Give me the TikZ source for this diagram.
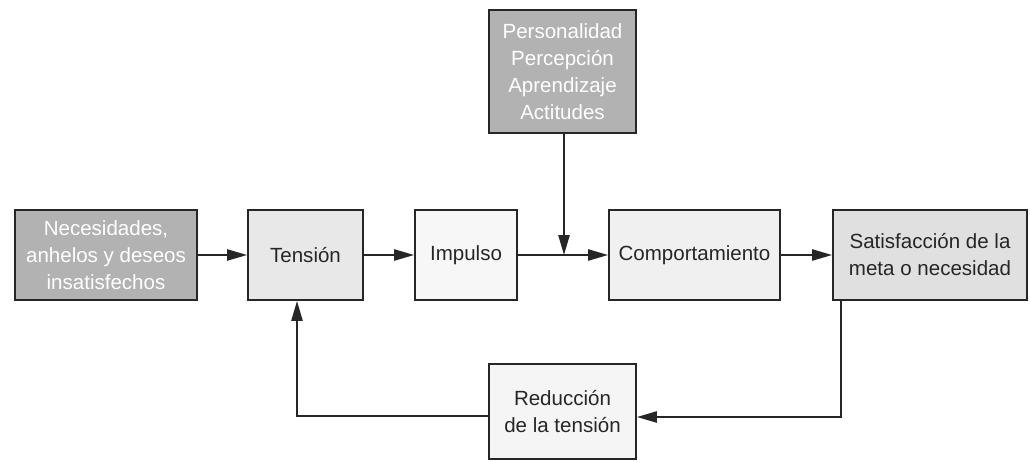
\documentclass[tikz,border=0pt]{standalone}
\usepackage{fontspec}
\setmainfont{Liberation Sans}
\usetikzlibrary{arrows.meta}

\begin{document}
\begin{tikzpicture}[x=0.025cm, y=-0.025cm, box/.style={draw=black!85, line width=1.3pt, align=center, inner sep=0pt, minimum height=2.25cm, font=\fontsize{14.6}{19.2}\selectfont, text=black!85}, dark/.style={box, fill=black!30, text=white}, arr/.style={draw=black!85, line width=1.3pt, -{Triangle[length=5mm,width=2.8mm]}}
]
\useasboundingbox (0,0) rectangle (1030,461);
\node[dark, minimum width=4.55cm] (nec) at (106,255) {Necesidades,\\anhelos y deseos\\insatisfechos};
\node[box, fill=black!9, minimum width=2.875cm] (ten) at (305.5,255) {Tensión};
\node[box, fill=black!3, minimum width=2.55cm] (imp) at (466,255) {Impulso};
\node[box, fill=black!6, minimum width=4.275cm] (com) at (694.5,255) {Comportamiento};
\node[box, fill=black!12, minimum width=4.85cm] (sat) at (930,255) {Satisfacción de la\\meta o necesidad};
\node[dark, minimum width=3.675cm, minimum height=3.075cm] (per) at (562.5,71.5) {Personalidad\\Percepción\\Aprendizaje\\Actitudes};
\node[box, fill=black!4, minimum width=3.675cm, minimum height=2.375cm] (red) at (562.5,411.5) {Reducción\\de la tensión};
\coordinate (join) at (564,255);
\coordinate (down) at (841,417);
\coordinate (back) at (297,416);

\draw[arr] (nec) -- (ten);
\draw[arr] (ten) -- (imp);
\draw[arr] (imp) -- (com);
\draw[arr] (com) -- (sat);
\draw[arr] (per.south -| join) -- (join);
\draw[arr] (sat.south -| down) -- (down) -- (down -| red.east);
\draw[arr] (back -| red.west) -- (back) -- (back |- ten.south);
\end{tikzpicture}
\end{document}
